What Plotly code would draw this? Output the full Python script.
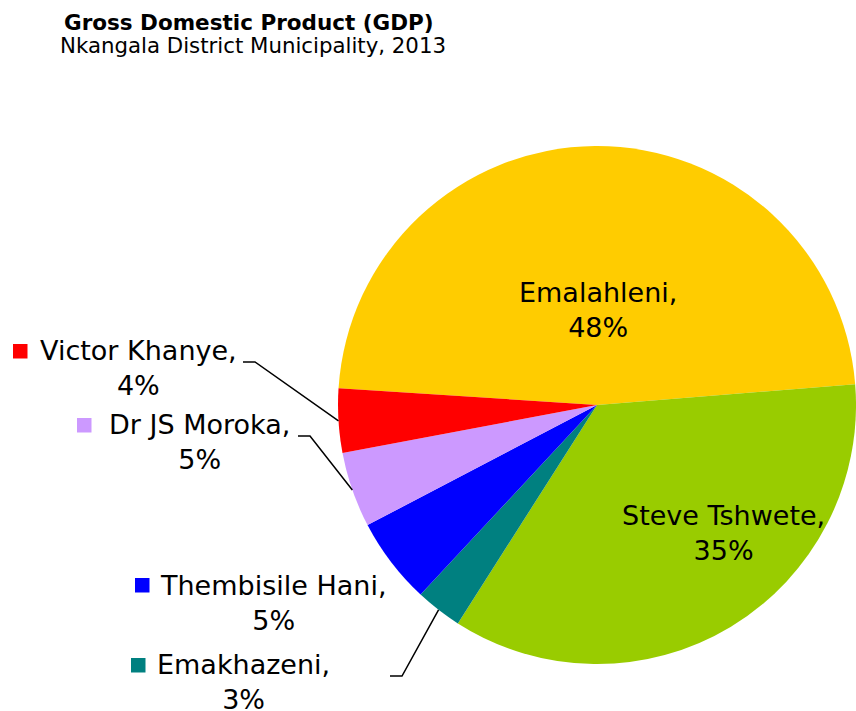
import math
import plotly.graph_objects as go

# ---- data ----
labels = ["Emalahleni", "Steve Tshwete", "Emakhazeni", "Thembisile Hani", "Dr JS Moroka", "Victor Khanye"]
values = [47.7, 35.3, 2.9, 5.4, 4.7, 4.0]
colors = ["#FFCC00", "#99CC00", "#008080", "#0000FF", "#CC99FF", "#FF0000"]
title_text = "Gross Domestic Product (GDP)"
subtitle_text = "Nkangala District Municipality, 2013"

# ---- layout geometry (pixels) ----
W, H = 856, 711
CX, CY, R = 597, 405, 259
ROTATION = -86.3
FONT = "DejaVu Sans"

# label placement (block centre in px), square marker, leader elbow
label_pos = {
    "Emalahleni": (598, 310),
    "Steve Tshwete": (723, 533),
    "Emakhazeni": (243, 682),
    "Thembisile Hani": (273, 603),
    "Dr JS Moroka": (199, 442),
    "Victor Khanye": (138, 368),
}
square_pos = {
    "Emakhazeni": (131, 658),
    "Thembisile Hani": (135, 578),
    "Dr JS Moroka": (77, 418),
    "Victor Khanye": (13, 344),
}
elbow = {
    "Emakhazeni": (390, 402, 676),
    "Dr JS Moroka": (298, 310, 436),
    "Victor Khanye": (243, 255, 362),
}


def px(x):
    return x / W


def py(y):
    return 1 - y / H


fig = go.Figure(go.Pie(
    labels=labels,
    values=values,
    marker=dict(colors=colors, line=dict(width=0)),
    sort=False,
    direction="clockwise",
    rotation=ROTATION,
    textinfo="none",
    hoverinfo="label+percent",
    domain=dict(x=[px(CX - R), min(1.0, px(CX + R))], y=[py(CY + R), py(CY - R)]),
    showlegend=False,
))

total = sum(values)
annotations = []
shapes = []

annotations.append(dict(text="<b>" + title_text + "</b>", x=px(249), y=py(22), xref="paper", yref="paper",
                        showarrow=False, xanchor="center", yanchor="middle",
                        font=dict(family=FONT, size=21.5, color="black")))
annotations.append(dict(text=subtitle_text, x=px(253), y=py(46), xref="paper", yref="paper",
                        showarrow=False, xanchor="center", yanchor="middle",
                        font=dict(family=FONT, size=21.3, color="black")))

start = ROTATION
for lab, val, col in zip(labels, values, colors):
    span = val / total * 360.0
    mid = math.radians(start + span / 2)
    start += span
    pct = round(val / total * 100)
    lx, ly = label_pos[lab]
    annotations.append(dict(text=f"{lab},<br>{pct}%", x=px(lx), y=py(ly), xref="paper", yref="paper",
                            showarrow=False, xanchor="center", yanchor="middle", align="center",
                            font=dict(family=FONT, size=27, color="black")))
    if lab in square_pos:
        sx, sy = square_pos[lab]
        shapes.append(dict(type="rect", xref="paper", yref="paper",
                           x0=px(sx), x1=px(sx + 14.5), y0=py(sy), y1=py(sy + 14.5),
                           fillcolor=col, line=dict(width=0)))
    if lab in elbow:
        ex0, ex1, ey = elbow[lab]
        rx = CX + R * math.sin(mid)
        ry = CY - R * math.cos(mid)
        path = f"M {px(ex0)},{py(ey)} L {px(ex1)},{py(ey)} L {px(rx)},{py(ry)}"
        shapes.append(dict(type="path", xref="paper", yref="paper", path=path,
                           line=dict(color="black", width=1.5)))

fig.update_layout(
    width=W, height=H,
    margin=dict(l=0, r=0, t=0, b=0),
    paper_bgcolor="white", plot_bgcolor="white",
    annotations=annotations, shapes=shapes,
)

fig.write_html("out.html",
               config={"displayModeBar": False},
               post_script="document.body.style.margin='0';document.body.style.overflow='hidden';")
